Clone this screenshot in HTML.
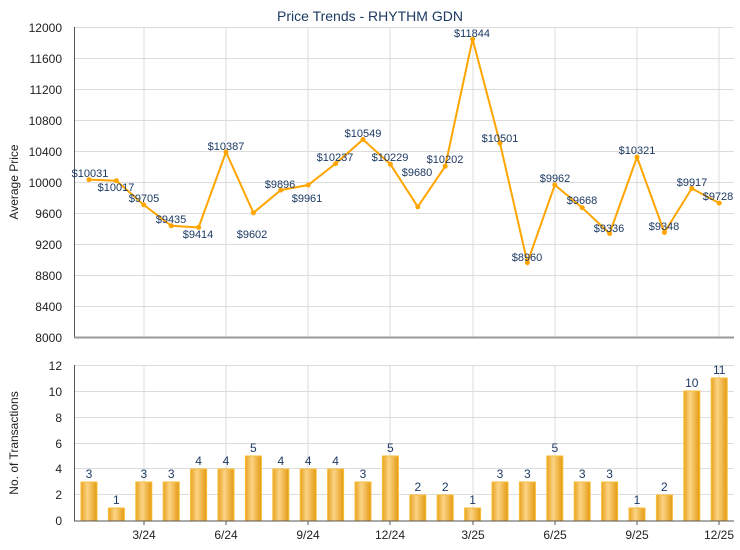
<!DOCTYPE html>
<html><head><meta charset="utf-8"><style>
html,body{margin:0;padding:0;background:#fff;}
svg{display:block;font-family:"Liberation Sans",sans-serif;}
</style></head><body>
<svg width="740" height="550" viewBox="0 0 740 550" xmlns="http://www.w3.org/2000/svg">
<defs>
<linearGradient id="bg" x1="0" y1="0" x2="1" y2="0">
<stop offset="0" stop-color="#E9A21E"/><stop offset="0.4" stop-color="#FBD486"/><stop offset="1" stop-color="#E49A10"/>
</linearGradient>
</defs>
<text x="370" y="21" text-anchor="middle" font-size="14" fill="#1d3a63">Price Trends - RHYTHM GDN</text>
<!-- top grid -->
<g stroke="#dcdcdc" stroke-width="1">
<line x1="75" y1="27.5" x2="734" y2="27.5"/><line x1="75" y1="58.5" x2="734" y2="58.5"/><line x1="75" y1="89.5" x2="734" y2="89.5"/><line x1="75" y1="120.5" x2="734" y2="120.5"/><line x1="75" y1="151.5" x2="734" y2="151.5"/><line x1="75" y1="182.5" x2="734" y2="182.5"/><line x1="75" y1="213.5" x2="734" y2="213.5"/><line x1="75" y1="244.5" x2="734" y2="244.5"/><line x1="75" y1="275.5" x2="734" y2="275.5"/><line x1="75" y1="306.5" x2="734" y2="306.5"/>
<line x1="144" y1="27" x2="144" y2="337"/><line x1="226" y1="27" x2="226" y2="337"/><line x1="308" y1="27" x2="308" y2="337"/><line x1="390" y1="27" x2="390" y2="337"/><line x1="473" y1="27" x2="473" y2="337"/><line x1="555" y1="27" x2="555" y2="337"/><line x1="637" y1="27" x2="637" y2="337"/><line x1="719" y1="27" x2="719" y2="337"/>
</g>
<line x1="74.5" y1="27" x2="74.5" y2="338" stroke="#555" stroke-width="1"/>
<line x1="74" y1="337.5" x2="734" y2="337.5" stroke="#999" stroke-width="2"/>
<g font-size="12" fill="#222" text-anchor="end">
<text x="62" y="32">12000</text><text x="62" y="63">11600</text><text x="62" y="94">11200</text><text x="62" y="125">10800</text><text x="62" y="156">10400</text><text x="62" y="187">10000</text><text x="62" y="218">9600</text><text x="62" y="249">9200</text><text x="62" y="280">8800</text><text x="62" y="311">8400</text><text x="62" y="342">8000</text>
</g>
<text transform="translate(18,182) rotate(-90)" text-anchor="middle" font-size="12" fill="#222">Average Price</text>
<polyline fill="none" stroke="#FFA500" stroke-width="2" points="89,179.6 116.4,180.7 143.8,204.9 171.2,225.8 198.6,227.4 226,152 253.4,212.8 280.8,190.1 308.2,185 335.6,163.6 363,139.5 390.4,164.3 417.8,206.8 445.2,166.3 472.6,39.1 500,143.2 527.4,262.6 554.8,184.9 582.2,207.7 609.6,233.5 637,157.1 664.4,232.5 691.8,188.4 719.2,203.1"/>
<g fill="#FFA500">
<circle cx="89" cy="179.6" r="2.5"/><circle cx="116.4" cy="180.7" r="2.5"/><circle cx="143.8" cy="204.9" r="2.5"/><circle cx="171.2" cy="225.8" r="2.5"/><circle cx="198.6" cy="227.4" r="2.5"/><circle cx="226" cy="152" r="2.5"/><circle cx="253.4" cy="212.8" r="2.5"/><circle cx="280.8" cy="190.1" r="2.5"/><circle cx="308.2" cy="185" r="2.5"/><circle cx="335.6" cy="163.6" r="2.5"/><circle cx="363" cy="139.5" r="2.5"/><circle cx="390.4" cy="164.3" r="2.5"/><circle cx="417.8" cy="206.8" r="2.5"/><circle cx="445.2" cy="166.3" r="2.5"/><circle cx="472.6" cy="39.1" r="2.5"/><circle cx="500" cy="143.2" r="2.5"/><circle cx="527.4" cy="262.6" r="2.5"/><circle cx="554.8" cy="184.9" r="2.5"/><circle cx="582.2" cy="207.7" r="2.5"/><circle cx="609.6" cy="233.5" r="2.5"/><circle cx="637" cy="157.1" r="2.5"/><circle cx="664.4" cy="232.5" r="2.5"/><circle cx="691.8" cy="188.4" r="2.5"/><circle cx="719.2" cy="203.1" r="2.5"/>
</g>
<g font-size="11" fill="#1d3a63" text-anchor="middle">
<text x="90" y="177">$10031</text><text x="116" y="191">$10017</text><text x="144" y="202">$9705</text><text x="171" y="223">$9435</text><text x="198" y="238">$9414</text><text x="226" y="150">$10387</text><text x="252" y="238">$9602</text><text x="280" y="188">$9896</text><text x="307" y="202">$9961</text><text x="335" y="161">$10237</text><text x="363" y="137">$10549</text><text x="390" y="161">$10229</text><text x="417" y="176">$9680</text><text x="445" y="163">$10202</text><text x="472" y="37">$11844</text><text x="500" y="142">$10501</text><text x="527" y="261">$8960</text><text x="555" y="182">$9962</text><text x="582" y="204">$9668</text><text x="609" y="232">$9336</text><text x="637" y="154">$10321</text><text x="664" y="230">$9348</text><text x="692" y="186">$9917</text><text x="718" y="200">$9728</text>
</g>
<!-- bottom chart -->
<g stroke="#dcdcdc" stroke-width="1">
<line x1="75" y1="365.5" x2="734" y2="365.5"/><line x1="75" y1="391.5" x2="734" y2="391.5"/><line x1="75" y1="417.5" x2="734" y2="417.5"/><line x1="75" y1="443.5" x2="734" y2="443.5"/><line x1="75" y1="468.5" x2="734" y2="468.5"/><line x1="75" y1="494.5" x2="734" y2="494.5"/>
<line x1="144" y1="365" x2="144" y2="521"/><line x1="226" y1="365" x2="226" y2="521"/><line x1="308" y1="365" x2="308" y2="521"/><line x1="390" y1="365" x2="390" y2="521"/><line x1="473" y1="365" x2="473" y2="521"/><line x1="555" y1="365" x2="555" y2="521"/><line x1="637" y1="365" x2="637" y2="521"/><line x1="719" y1="365" x2="719" y2="521"/>
</g>
<g font-size="12" fill="#222" text-anchor="end">
<text x="62" y="370">12</text><text x="62" y="396">10</text><text x="62" y="422">8</text><text x="62" y="448">6</text><text x="62" y="473">4</text><text x="62" y="499">2</text><text x="62" y="525">0</text>
</g>
<text transform="translate(18,443) rotate(-90)" text-anchor="middle" font-size="12" fill="#222">No. of Transactions</text>
<g fill="url(#bg)" stroke="#F7BE3A" stroke-width="1">
<rect x="81" y="482" width="16" height="39"/><rect x="108.4" y="508" width="16" height="13"/><rect x="135.8" y="482" width="16" height="39"/><rect x="163.2" y="482" width="16" height="39"/><rect x="190.6" y="469" width="16" height="52"/><rect x="218" y="469" width="16" height="52"/><rect x="245.4" y="456" width="16" height="65"/><rect x="272.8" y="469" width="16" height="52"/><rect x="300.2" y="469" width="16" height="52"/><rect x="327.6" y="469" width="16" height="52"/><rect x="355" y="482" width="16" height="39"/><rect x="382.4" y="456" width="16" height="65"/><rect x="409.8" y="495" width="16" height="26"/><rect x="437.2" y="495" width="16" height="26"/><rect x="464.6" y="508" width="16" height="13"/><rect x="492" y="482" width="16" height="39"/><rect x="519.4" y="482" width="16" height="39"/><rect x="546.8" y="456" width="16" height="65"/><rect x="574.2" y="482" width="16" height="39"/><rect x="601.6" y="482" width="16" height="39"/><rect x="629" y="508" width="16" height="13"/><rect x="656.4" y="495" width="16" height="26"/><rect x="683.8" y="391" width="16" height="130"/><rect x="711.2" y="378" width="16" height="143"/>
</g>
<line x1="74.5" y1="365" x2="74.5" y2="521" stroke="#555" stroke-width="1"/>
<line x1="74" y1="521" x2="734" y2="521" stroke="#555" stroke-width="1"/>
<g stroke="#555"><line x1="144" y1="521" x2="144" y2="525"/><line x1="226" y1="521" x2="226" y2="525"/><line x1="308" y1="521" x2="308" y2="525"/><line x1="390" y1="521" x2="390" y2="525"/><line x1="473" y1="521" x2="473" y2="525"/><line x1="555" y1="521" x2="555" y2="525"/><line x1="637" y1="521" x2="637" y2="525"/><line x1="719" y1="521" x2="719" y2="525"/></g>
<g font-size="12" fill="#1d3a63" text-anchor="middle">
<text x="89" y="478">3</text><text x="116.4" y="504">1</text><text x="143.8" y="478">3</text><text x="171.2" y="478">3</text><text x="198.6" y="465">4</text><text x="226" y="465">4</text><text x="253.4" y="452">5</text><text x="280.8" y="465">4</text><text x="308.2" y="465">4</text><text x="335.6" y="465">4</text><text x="363" y="478">3</text><text x="390.4" y="452">5</text><text x="417.8" y="491">2</text><text x="445.2" y="491">2</text><text x="472.6" y="504">1</text><text x="500" y="478">3</text><text x="527.4" y="478">3</text><text x="554.8" y="452">5</text><text x="582.2" y="478">3</text><text x="609.6" y="478">3</text><text x="637" y="504">1</text><text x="664.4" y="491">2</text><text x="691.8" y="387">10</text><text x="719.2" y="374">11</text>
</g>
<g font-size="12" fill="#222" text-anchor="middle">
<text x="144" y="539">3/24</text><text x="226" y="539">6/24</text><text x="308" y="539">9/24</text><text x="390" y="539">12/24</text><text x="473" y="539">3/25</text><text x="555" y="539">6/25</text><text x="637" y="539">9/25</text><text x="719" y="539">12/25</text>
</g>
</svg>
</body></html>
